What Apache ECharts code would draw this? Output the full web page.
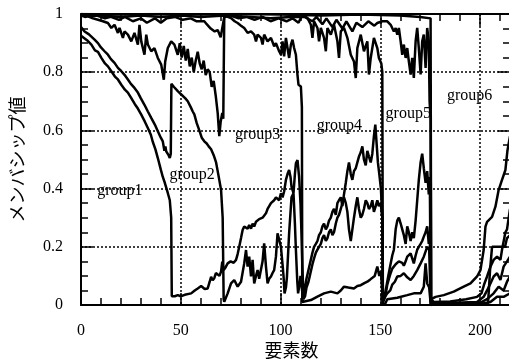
<!DOCTYPE html>
<html>
<head>
<meta charset="utf-8">
<script src="https://cdn.jsdelivr.net/npm/echarts@6/dist/echarts.min.js"></script>
<style>
  html, body { margin: 0; padding: 0; background: #fff; }
  #chart { width: 509px; height: 361px; }
</style>
</head>
<body>
<div id="chart"></div>
<script>
// tick positions
const xTicks = [0, 50, 100, 150, 200];
const xMinorTicks = [10, 20, 30, 40, 60, 70, 80, 90, 110, 120, 130, 140, 160, 170, 180, 190, 210];

// group labels and where they sit (element index, membership)
const groupNames = ['group1', 'group2', 'group3', 'group4', 'group5', 'group6'];
const groupLabelPos = [[19.5, 0.392], [55.7, 0.447], [88.5, 0.585], [129.5, 0.617], [164, 0.656], [194.75, 0.72]];

// membership curves, [element index, value]
const s1 = [
  [0,0.925],[1,0.923],[3,0.91],[5.2,0.895],[7,0.875],[8.5,0.87],[10.2,0.849],[12,0.83],[13.5,0.82],[15.2,0.803],[17,0.785],[18.5,0.775],[20.2,0.757],[22,0.74],[23.5,0.73],[25.2,0.711],[27,0.69],[28.5,0.675],[30.2,0.654],[32,0.63],[33.5,0.608],[35,0.585],[36,0.56],[37.3,0.535],[38.5,0.505],[40,0.465],[41,0.44],[42,0.42],[43.5,0.385],[44.5,0.36],[45.2,0.30],[45.5,0.03],
  [47,0.03],[48.5,0.034],[50,0.03],[52,0.035],[55.2,0.04],[57,0.05],[58.5,0.057],[60.2,0.065],[62,0.055],[63.5,0.057],[64.5,0.08],[65.2,0.097],[66,0.085],[66.8,0.092],[67.6,0.11],[68.5,0.109],[69.4,0.10],[70.2,0.115],[70.8,0.149],[71.5,0.12],[72.5,0.13],
  [73.5,0.143],[75,0.15],[76.5,0.145],[77.7,0.155],[78.5,0.175],[79.3,0.20],[80.2,0.23],[81,0.258],[81.8,0.27],[82.7,0.275],[83.5,0.262],[84.3,0.275],[85.2,0.262],[86,0.28],[86.8,0.27],[87.7,0.286],[88.5,0.28],[89.3,0.295],[90.2,0.29],[91,0.30],[91.8,0.295],[92.7,0.315],[93.5,0.33],[94.3,0.33],[95.2,0.35],[96,0.355],[96.8,0.36],[97.7,0.37],[98.5,0.372],[99.3,0.36],[100.2,0.384],[101,0.37],[101.8,0.39],[102.7,0.43],[103.5,0.45],[104.3,0.464],[105,0.44],[105.5,0.407],[106.5,0.384],[107.2,0.45],[107.7,0.487],[108.5,0.498],[109.3,0.44],[110,0.35],[110.5,0.246],[111,0.12],[111.5,0.03],
  [112.3,0.06],[113,0.09],[114,0.12],[115,0.15],[116,0.18],[116.8,0.2],[117.7,0.21],[118.5,0.22],[119.3,0.24],[120.2,0.25],[121,0.27],[121.8,0.28],[122.7,0.26],[123.5,0.27],[124.3,0.29],[125.2,0.30],[126,0.32],[126.8,0.33],[127.7,0.31],[128.5,0.35],[129.3,0.36],[130.2,0.37],[131,0.34],[131.8,0.38],[132.7,0.42],[133.5,0.46],[134.3,0.49],[135.2,0.45],[136,0.43],[136.8,0.46],[137.7,0.47],[138.5,0.49],[139.3,0.51],[140.2,0.525],[141,0.545],[141.8,0.50],[142.7,0.48],[143.5,0.53],[144.3,0.51],[145.2,0.49],[146,0.52],[146.8,0.58],[147.5,0.62],[148.2,0.55],[148.8,0.49],[149.5,0.45],[150.3,0.40],[151,0.30],[151.3,0.02],
  [152.2,0.03],[152.7,0.05],[154,0.10],[155.2,0.143],[156,0.17],[156.8,0.19],[157.7,0.26],[158.5,0.29],[159.3,0.30],[160.2,0.28],[161,0.26],[161.8,0.24],[162.7,0.21],[163.5,0.27],[164.3,0.25],[165.2,0.22],[166,0.25],[166.8,0.23],[167.7,0.29],[168.5,0.36],[169.3,0.43],[170.2,0.49],[171,0.52],[171.8,0.47],[172.7,0.42],[173.5,0.46],[174.3,0.38],[174.8,0.44],[175.3,0.02],
  [177,0.01],[185,0.012],[193,0.02],[198.5,0.028],[200.7,0.04],[202.2,0.074],[203.5,0.098],[205.2,0.132],[206.8,0.155],[208.5,0.166],[210.2,0.155],[211,0.19],[212.7,0.25],[213.5,0.26],[215,0.33]
];
const s2 = [
  [0,0.955],[1.8,0.94],[4,0.93],[6.8,0.912],[8.5,0.90],[10,0.885],[11.8,0.872],[13.5,0.86],[15,0.845],[16.8,0.832],[18.5,0.815],[20,0.805],[21.8,0.791],[23.5,0.775],[25,0.76],[26.8,0.746],[28.5,0.73],[30,0.71],[31.8,0.688],[33.5,0.665],[35.2,0.643],[37,0.62],[38.5,0.597],[40,0.575],[41,0.562],[41.8,0.53],[42.3,0.545],[42.7,0.528],[43.8,0.516],[44.5,0.505],[45,0.52],[45.3,0.76],
  [46.5,0.75],[47.5,0.745],[48.5,0.735],[50,0.725],[51,0.72],[52.3,0.71],[53.5,0.70],[55,0.68],[56,0.665],[56.8,0.655],[58,0.625],[59.3,0.60],[60.5,0.575],[61.8,0.5625],[63,0.555],[64,0.545],[65.2,0.535],[66.5,0.515],[67.7,0.49],[68.5,0.46],[69.3,0.43],[70.2,0.395],[71,0.30],[71.5,0.02],
  [71.8,0.011],[73.5,0.04],[75.2,0.074],[76.8,0.086],[78.5,0.063],[80.2,0.080],[81.8,0.143],[82.7,0.189],[83.5,0.132],[84.3,0.166],[85.2,0.098],[86,0.155],[86.8,0.074],[87.7,0.10],[88.5,0.12],[89.3,0.09],[90.2,0.086],[91,0.15],[91.8,0.212],[92.7,0.132],[93.5,0.074],[94.3,0.09],[95.2,0.098],[96,0.11],[96.8,0.12],[97.7,0.166],[98.5,0.246],[99.3,0.25],[100.2,0.20],[101,0.14],[101.5,0.10],[102,0.04],[102.7,0.06],[103.2,0.095],[104.3,0.246],[105.5,0.37],[106.5,0.384],[107.2,0.28],[107.7,0.19],[108.4,0.08],[108.8,0.04],[109.5,0.07],[110,0.10],[110.8,0.05],[111.5,0.02],
  [112.3,0.03],[113,0.06],[114,0.08],[115,0.11],[116,0.14],[116.8,0.16],[117.7,0.18],[118.5,0.19],[119.3,0.20],[120.2,0.21],[121,0.23],[121.8,0.24],[122.7,0.22],[123.5,0.23],[124.3,0.25],[125.2,0.26],[126,0.24],[126.8,0.25],[127.7,0.28],[128.5,0.30],[129.3,0.31],[130.2,0.33],[131,0.35],[131.8,0.37],[132.7,0.35],[133.5,0.32],[134.3,0.26],[135.2,0.22],[136,0.26],[136.8,0.30],[137.7,0.34],[138.5,0.37],[139.3,0.33],[140.2,0.30],[141,0.31],[141.8,0.33],[142.7,0.36],[143.5,0.35],[144.3,0.33],[145.2,0.34],[146,0.36],[146.8,0.32],[147.7,0.34],[148.5,0.36],[149.3,0.34],[150.2,0.35],[151,0.30],[151.3,0.01],
  [152.5,0.03],[153.5,0.07],[154.3,0.09],[155.2,0.11],[156,0.125],[156.8,0.13],[157.7,0.14],[158.5,0.143],[159.3,0.15],[160.2,0.155],[161,0.145],[161.8,0.135],[162.7,0.15],[163.5,0.166],[164.3,0.17],[165.2,0.177],[166,0.16],[166.8,0.143],[167.7,0.17],[168.5,0.19],[169.3,0.20],[170.2,0.21],[171,0.22],[171.8,0.235],[172.7,0.25],[173.5,0.27],[174.3,0.21],[174.8,0.24],[175.3,0.01],
  [177,0.005],[198.5,0.01],[201.8,0.028],[203.5,0.05],[205.2,0.074],[206.8,0.098],[208.5,0.109],[210.2,0.086],[211.8,0.132],[213.5,0.15],[215,0.166]
];
const s3 = [
  [0,0.995],[2,0.99],[3.5,0.992],[6,0.985],[8.5,0.98],[11,0.975],[13.5,0.969],[15.2,0.952],[16.8,0.963],[18.5,0.935],[19.3,0.952],[21,0.918],[21.8,0.94],[23.5,0.929],[25.2,0.906],[26.8,0.935],[28.5,0.895],[29.3,0.963],[30.2,0.906],[31.8,0.86],[32.7,0.929],[33.5,0.895],[35.2,0.872],[36.8,0.883],[38.5,0.849],[40.2,0.826],[41.5,0.774],[42.2,0.837],[43.5,0.883],[45.2,0.906],[46.8,0.895],[48.5,0.86],
  [49.5,0.90],[50.5,0.85],[51.5,0.89],[52.5,0.84],[53.5,0.88],[54.5,0.82],[55.5,0.85],[56.5,0.80],[57.5,0.84],[58.5,0.87],[59.5,0.83],[60.5,0.81],[61.5,0.84],[62.5,0.79],[63.5,0.81],[64.5,0.80],[65.5,0.75],[66.5,0.77],[67.5,0.72],[68.5,0.66],[69.3,0.58],[70,0.63],[70.8,0.66],[71.3,0.64],[71.8,0.998],
  [73.5,0.99],[75.2,0.986],[77,0.975],[78.5,0.969],[80.2,0.96],[81.8,0.952],[83.5,0.935],[85.2,0.94],[86.8,0.929],[87.7,0.906],[88.5,0.929],[90.2,0.918],[91,0.895],[91.8,0.929],[93.5,0.906],[95.2,0.918],[96.8,0.889],[97.7,0.90],[98.5,0.906],[99.3,0.872],[100.2,0.86],[101,0.906],[101.8,0.854],[102.7,0.918],[103.5,0.883],[104.3,0.849],[105.2,0.895],[106,0.912],[106.8,0.883],[107.7,0.86],[108.5,0.79],[109,0.757],[110.2,0.751],[110.7,0.68],[110.9,0.01],
  [111.8,0.011],[115.2,0.017],[118.5,0.029],[121.8,0.040],[125.2,0.046],[128.5,0.040],[130.2,0.05],[131.8,0.063],[134,0.06],[136.8,0.057],[138.5,0.065],[140.2,0.068],[142,0.075],[143.5,0.080],[145,0.088],[146,0.092],[147.2,0.10],[148.5,0.132],[149.5,0.10],[150.3,0.115],[151,0.109],[151.3,0.01],
  [152.5,0.03],[153.5,0.04],[155,0.05],[156,0.07],[157.3,0.08],[158.5,0.098],[160.2,0.10],[161.8,0.109],[163.5,0.095],[165.2,0.086],[166.8,0.10],[168.5,0.12],[170.2,0.143],[171.8,0.166],[173.5,0.2],[174.5,0.19],[175.3,0.0],
  [177,0.004],[200.2,0.008],[203.5,0.02],[206.8,0.04],[209.3,0.063],[211.8,0.05],[213.5,0.08],[215,0.098]
];
const s4 = [
  [0,1.0],[5,0.99],[8,0.995],[12,0.985],[15,0.99],[19,0.98],[22,0.99],[26,0.975],[30,0.985],[33,0.97],[37,0.985],[40,0.97],[43,0.985],[47,0.99],[51,0.98],[55,0.985],[58,0.975],[61.8,0.975],[63,0.965],[65,0.95],[66,0.955],[67,0.94],[68.5,0.945],[70,0.92],[71,0.925],[71.8,0.99],[75,0.995],[79,0.985],[83,0.99],[87,0.98],[91,0.99],[95,0.975],[99,0.985],[103,0.975],[106,0.985],[109,0.97],
  [111,0.998],[113.5,0.986],[115.2,0.963],[116,0.918],[116.8,0.975],[118.5,0.952],[119.3,0.906],[120.2,0.952],[121.8,0.918],[122.7,0.872],[123.5,0.952],[125.2,0.929],[126.8,0.963],[128.5,0.906],[129.3,0.849],[130.2,0.94],[131.8,0.952],[133.5,0.918],[135.2,0.86],[136.8,0.837],[137.7,0.78],[138.5,0.883],[140.2,0.929],[141.8,0.872],[143.5,0.906],[144.3,0.792],[145.2,0.849],[146.8,0.918],[148.5,0.883],[149.3,0.849],[150.5,0.83],[151,0.80],[151.3,0.0],
  [152.5,0.005],[153.5,0.02],[158.5,0.025],[163.5,0.034],[166.8,0.04],[170.2,0.04],[171.8,0.063],[172.7,0.143],[173.5,0.074],[174.5,0.06],[175.3,0.0],
  [177,0.003],[201.8,0.005],[205.2,0.01],[208.5,0.028],[211.8,0.028],[215,0.04]
];
const s5 = [
  [0,1.0],[10,0.995],[20,0.99],[30,0.995],[40,0.99],[50,0.995],[60,0.99],[72,0.995],[85,0.99],[95,0.985],[105,0.99],[112,0.99],[116,0.975],[118,0.99],[121,0.965],[123,0.985],[126,0.955],[128,0.98],[131,0.95],[133,0.975],[136,0.94],[138,0.97],[141,0.955],[144,0.975],[147,0.96],[148.5,0.969],
  [151,0.975],[153.5,0.975],[155.2,0.963],[156.8,0.94],[157.7,0.952],[158.5,0.929],[159.3,0.952],[160.2,0.906],[161,0.86],[161.8,0.895],[162.7,0.849],[163.5,0.883],[164.3,0.837],[165.2,0.792],[166,0.849],[166.8,0.78],[167.7,0.906],[168.5,0.952],[169.3,0.883],[170.2,0.792],[171,0.906],[171.8,0.929],[172.7,0.815],[173.5,0.952],[174.3,0.906],[174.7,0.70],[175.2,0.64],[175.5,0.0],
  [177,0.004],[204,0.006],[205,0.12],[206,0.2],[212.5,0.2],[213.5,0.23],[215,0.24]
];
const s6 = [
  [0,1.0],[20,0.998],[40,1.0],[60,0.998],[80,1.0],[100,0.998],[120,0.995],[140,0.998],[160,0.995],[170,0.99],[175.2,0.985],[175.5,0.02],
  [177.7,0.028],[181.8,0.034],[186.8,0.046],[191.8,0.063],[195.2,0.074],[198.5,0.098],[200.2,0.12],[201.8,0.189],[202.7,0.269],[203.5,0.286],[206,0.303],[207.7,0.338],[209.3,0.395],[211,0.43],[212.7,0.464],[213.7,0.53],[215,0.58]
];

const serif = 'Liberation Serif';
const black = '#000';

const lineSeries = (data) => ({
  type: 'line',
  data: data,
  symbol: 'none',
  showSymbol: false,
  lineStyle: { color: black, width: 2.5 },
  silent: true,
  z: 3
});

const majorAxisX = (position, withLabels) => ({
  type: 'value',
  position: position,
  min: 0,
  max: 215,
  interval: 50,
  axisLine: { show: true, onZero: false, lineStyle: { color: black, width: 2 } },
  axisTick: { show: true, inside: true, length: 12, customValues: xTicks, lineStyle: { color: black, width: 1.5 } },
  axisLabel: withLabels
    ? { show: true, customValues: xTicks, margin: 18, color: black, fontFamily: serif, fontSize: 16 }
    : { show: false },
  splitLine: withLabels
    ? { show: true, lineStyle: { color: black, width: 1.5, type: [2, 2] } }
    : { show: false }
});

const minorAxisX = (position) => ({
  type: 'value',
  position: position,
  min: 0,
  max: 215,
  axisLine: { show: false, onZero: false },
  axisTick: { show: true, inside: true, length: 7, customValues: xMinorTicks, lineStyle: { color: black, width: 1.5 } },
  axisLabel: { show: false },
  splitLine: { show: false }
});

const axisY = (position, withLabels) => ({
  type: 'value',
  position: position,
  min: 0,
  max: 1,
  interval: 0.2,
  axisLine: { show: true, onZero: false, lineStyle: { color: black, width: 2 } },
  axisTick: { show: true, inside: true, length: 12, lineStyle: { color: black, width: 1.5 } },
  minorTick: { show: true, splitNumber: 4, length: 7, lineStyle: { color: black, width: 1.5 } },
  axisLabel: withLabels
    ? { show: true, margin: 18, color: black, fontFamily: serif, fontSize: 16, showMinLabel: true, showMaxLabel: true }
    : { show: false },
  splitLine: withLabels
    ? { show: true, lineStyle: { color: black, width: 1.5, type: [2, 2] } }
    : { show: false }
});

const chart = echarts.init(document.getElementById('chart'), null, { renderer: 'canvas' });

const xMain = majorAxisX('bottom', true);
xMain.name = '要素数';
xMain.nameLocation = 'middle';
xMain.nameGap = 36;
xMain.nameMoveOverlap = false;
xMain.nameTextStyle = { color: black, fontFamily: 'Noto Sans CJK JP', fontSize: 18, padding: [0, 8, 0, 0] };

const yMain = axisY('left', true);
yMain.name = 'メンバシップ値';
yMain.nameLocation = 'middle';
yMain.nameRotate = 90;
yMain.nameGap = 55;
yMain.nameMoveOverlap = false;
yMain.nameTextStyle = { color: black, fontFamily: 'Noto Sans CJK JP', fontSize: 18 };

chart.setOption({
  animation: false,
  backgroundColor: '#fff',
  grid: { left: 81, top: 14, right: -1, bottom: 56, containLabel: false, outerBoundsMode: 'none' },
  xAxis: [xMain, majorAxisX('top', false), minorAxisX('bottom'), minorAxisX('top')],
  yAxis: [yMain, axisY('right', false)],
  series: [s1, s2, s3, s4, s5, s6].map(lineSeries)
});

// group labels placed through the chart's own scales
chart.setOption({
  graphic: groupLabelPos.map((p, i) => {
    const px = chart.convertToPixel({ gridIndex: 0 }, p);
    return {
      type: 'text',
      x: px[0],
      y: px[1],
      z: 10,
      silent: true,
      style: {
        text: groupNames[i],
        fill: black,
        font: '16px "Liberation Serif"',
        textAlign: 'center',
        textVerticalAlign: 'middle'
      }
    };
  })
});
</script>
</body>
</html>
